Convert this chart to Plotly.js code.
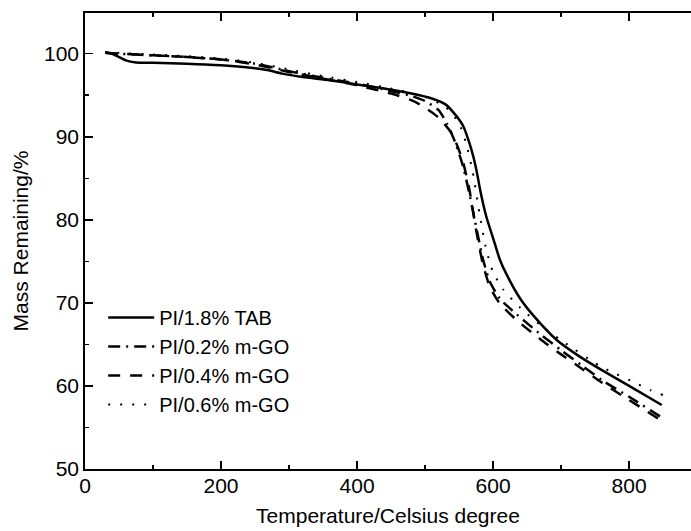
<!DOCTYPE html>
<html>
<head>
<meta charset="utf-8">
<script src="https://cdn.plot.ly/plotly-3.0.1.min.js"></script>
<style>html,body{margin:0;padding:0;background:#fff;}#chart{width:691px;height:531px;}</style>
</head>
<body>
<div id="chart"></div>
<script>
var seriesNames = ["PI/1.8% TAB", "PI/0.2% m-GO", "PI/0.4% m-GO", "PI/0.6% m-GO"];

var tabX = [30,40,50,60,75,100,150,200,250,270,290,320,360,400,440,480,510,530,545,556,565,571,576,581,590,600,610,620,640,660,694,728,760,800,848];
var tabY = [100.1,100.0,99.6,99.2,98.95,98.9,98.8,98.6,98.25,98.0,97.6,97.2,96.8,96.3,95.8,95.2,94.6,93.9,92.6,91.3,89.3,87.6,85.8,83.6,80.4,77.8,75.2,73.4,70.5,68.4,65.5,63.5,61.9,60.0,57.7];

var go02X = [30,50,100,150,200,250,300,350,400,450,480,500,520,532,544,556,565,575,585,595,610,635,670,700,730,760,800,850];
var go02Y = [100.1,100.0,99.8,99.6,99.3,98.8,97.9,97.1,96.4,95.5,94.9,94.3,93.2,91.6,89.4,86.4,83.2,79.2,75.3,72.6,70.5,68.6,66.2,64.3,62.5,60.7,58.7,56.1];

var go04X = [30,50,100,150,200,250,300,350,400,450,480,500,520,540,555,565,575,585,595,610,635,670,700,730,760,800,850];
var go04Y = [100.1,100.0,99.8,99.6,99.3,98.7,97.8,97.0,96.2,95.2,94.4,93.5,92.3,90.3,87.2,83.7,78.8,74.7,72.0,69.9,67.9,65.6,63.8,62.1,60.4,58.3,55.7];

var go06X = [30,50,100,150,200,250,300,350,400,450,500,530,550,560,570,580,590,600,615,640,670,700,757,782,806,831,850];
var go06Y = [100.2,100.1,99.9,99.7,99.4,98.9,98.1,97.3,96.6,95.8,94.8,93.6,91.6,89.3,85.8,80.8,76.4,73.7,71.6,69.4,67.3,65.5,62.4,61.4,60.5,59.5,58.9];

var xTickVals = [0,200,400,600,800];
var yTickVals = [50,60,70,80,90,100];

var FONT = "Liberation Sans, Arial, Helvetica, sans-serif";

var traces = [
  {x: tabX, y: tabY, name: seriesNames[0], mode: "lines", line: {color: "#000", width: 2.5, dash: "solid", shape: "spline", smoothing: 0.6}},
  {x: go02X, y: go02Y, name: seriesNames[1], mode: "lines", line: {color: "#000", width: 2.5, dash: "12px,6px,2px,6px", shape: "spline", smoothing: 0.6}},
  {x: go04X, y: go04Y, name: seriesNames[2], mode: "lines", line: {color: "#000", width: 2.5, dash: "12px,10px", shape: "spline", smoothing: 0.6}},
  {x: go06X, y: go06Y, name: seriesNames[3], mode: "lines", line: {color: "#000", width: 2, dash: "2px,10px", shape: "spline", smoothing: 0.6}}
];

var layout = {
  width: 691, height: 531,
  margin: {l: 85, r: 0, t: 13, b: 62},
  paper_bgcolor: "#fff", plot_bgcolor: "#fff",
  font: {family: FONT, color: "#000", size: 20},
  showlegend: true,
  legend: {x: 0.03, y: 0.375, xanchor: "left", yanchor: "top", bgcolor: "rgba(0,0,0,0)", itemwidth: 46, font: {family: FONT, size: 20, color: "#000"}, tracegroupgap: 0},
  xaxis: {
    range: [0, 891], tickvals: xTickVals, ticktext: xTickVals.map(String),
    ticks: "inside", ticklen: 8, tickwidth: 1.5, tickcolor: "#000",
    minor: {dtick: 100, tick0: 0, ticks: "inside", ticklen: 4, tickwidth: 1.5, tickcolor: "#000"},
    showline: true, linewidth: 1.8, linecolor: "#000", mirror: "ticks",
    showgrid: false, zeroline: false, ticklabelstandoff: -3,
    tickfont: {family: FONT, size: 21, color: "#000"},
    title: {text: "Temperature/Celsius degree", font: {family: FONT, size: 21, color: "#000"}, standoff: 12}
  },
  yaxis: {
    range: [50, 104.9], tickvals: yTickVals, ticktext: yTickVals.map(String),
    ticks: "inside", ticklen: 8, tickwidth: 1.5, tickcolor: "#000",
    minor: {dtick: 5, tick0: 50, ticks: "inside", ticklen: 4, tickwidth: 1.5, tickcolor: "#000"},
    showline: true, linewidth: 1.8, linecolor: "#000", mirror: false,
    showgrid: false, zeroline: false,
    tickfont: {family: FONT, size: 21, color: "#000"},
    title: {text: "Mass Remaining/%", font: {family: FONT, size: 21, color: "#000"}, standoff: 10}
  }
};

Plotly.newPlot("chart", traces, layout, {displayModeBar: false, staticPlot: true});
</script>
</body>
</html>
